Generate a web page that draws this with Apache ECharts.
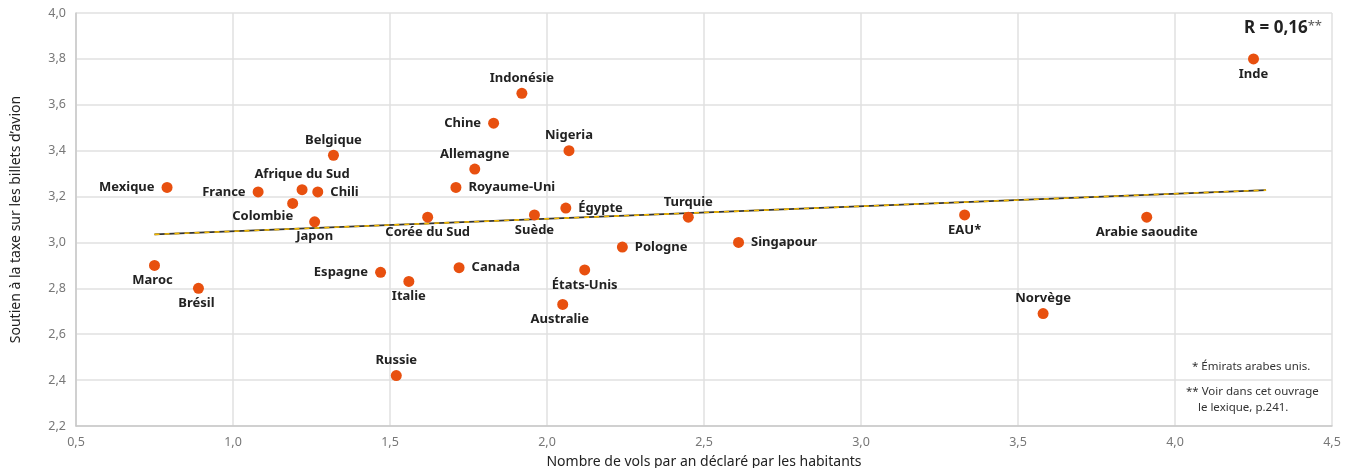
<!DOCTYPE html>
<html lang="fr">
<head>
<meta charset="UTF-8">
<title>Soutien à la taxe sur les billets d'avion</title>
<script src="https://cdn.jsdelivr.net/npm/echarts@6/dist/echarts.min.js"></script>
<style>
    body { margin: 0; padding: 0; background: #ffffff; }
    #chart { width: 1349px; height: 468px; }
</style>
</head>
<body>
<div id="chart"></div>
<script>
    // données
    const countries = ['Inde', 'Indonésie', 'Chine', 'Nigeria', 'Belgique', 'Allemagne', 'Mexique',
        'Royaume-Uni', 'Afrique du Sud', 'France', 'Chili', 'Colombie', 'Égypte', 'Suède',
        'Corée du Sud', 'Japon', 'Turquie', 'EAU*', 'Arabie saoudite', 'Singapour', 'Pologne',
        'Maroc', 'Canada', 'Espagne', 'États-Unis', 'Italie', 'Brésil', 'Australie', 'Norvège', 'Russie'];
    const flights = [4.25, 1.92, 1.83, 2.07, 1.32, 1.77, 0.79,
        1.71, 1.22, 1.08, 1.27, 1.19, 2.06, 1.96,
        1.62, 1.26, 2.45, 3.33, 3.91, 2.61, 2.24,
        0.75, 1.72, 1.47, 2.12, 1.56, 0.89, 2.05, 3.58, 1.52];
    const support = [3.80, 3.65, 3.52, 3.40, 3.38, 3.32, 3.24,
        3.24, 3.23, 3.22, 3.22, 3.17, 3.15, 3.12,
        3.11, 3.09, 3.11, 3.12, 3.11, 3.00, 2.98,
        2.90, 2.89, 2.87, 2.88, 2.83, 2.80, 2.73, 2.69, 2.42];
    const trendX = [0.75, 4.29];
    const trendY = [3.035, 3.228];

    // placement des étiquettes
    const labelPlace = {
        'Inde': 'bottom', 'Indonésie': 'top', 'Chine': 'left', 'Nigeria': 'top', 'Belgique': 'top',
        'Allemagne': 'top', 'Mexique': 'left', 'Royaume-Uni': 'right', 'Afrique du Sud': 'top',
        'France': 'left', 'Chili': 'right', 'Colombie': 'bottom', 'Égypte': 'right', 'Suède': 'bottom',
        'Corée du Sud': 'bottom', 'Japon': 'bottom', 'Turquie': 'top', 'EAU*': 'bottom',
        'Arabie saoudite': 'bottom', 'Singapour': 'right', 'Pologne': 'right', 'Maroc': 'bottom',
        'Canada': 'right', 'Espagne': 'left', 'États-Unis': 'bottom', 'Italie': 'bottom',
        'Brésil': 'bottom', 'Australie': 'bottom', 'Norvège': 'top', 'Russie': 'top'
    };
    const labelOffset = { 'Colombie': [-30, -2], 'Maroc': [-2, 0], 'Brésil': [-2, 0], 'Australie': [-3, 0] };

    const comma = v => v.toFixed(1).replace('.', ',');

    const points = countries.map((name, i) => ({
        name: name,
        value: [flights[i], support[i]],
        label: {
            position: labelPlace[name],
            offset: labelOffset[name] || [0, 0],
            distance: labelPlace[name] === 'left' || labelPlace[name] === 'right' ? 7 : 3
        }
    }));

    const trend = trendX.map((x, i) => [x, trendY[i]]);

    const chart = echarts.init(document.getElementById('chart'));
    chart.setOption({
        animation: false,
        textStyle: { fontFamily: 'Noto Sans' },
        grid: { left: 76, right: 17, top: 13, bottom: 42, containLabel: false, outerBoundsMode: 'none' },
        xAxis: {
            type: 'value',
            min: 0.5, max: 4.5, interval: 0.5,
            name: 'Nombre de vols par an déclaré par les habitants',
            nameLocation: 'middle',
            nameGap: 29,
            nameTextStyle: { fontSize: 14, color: '#222' },
            axisLine: { show: true, lineStyle: { color: '#c8c8c8', width: 1.5 } },
            axisTick: { show: false },
            axisLabel: { color: '#777', fontSize: 12.5, margin: 10, formatter: comma },
            splitLine: { show: true, lineStyle: { color: '#e0e0e0', width: 1.5 } }
        },
        yAxis: {
            type: 'value',
            min: 2.2, max: 4.0, interval: 0.2,
            name: 'Soutien à la taxe sur les billets d\u2019avion',
            nameLocation: 'middle',
            nameGap: 53,
            nameTextStyle: { fontSize: 14, color: '#222' },
            axisLine: { show: true, lineStyle: { color: '#c8c8c8', width: 1.5 } },
            axisTick: { show: false },
            axisLabel: { color: '#777', fontSize: 12.5, margin: 10, formatter: comma },
            splitLine: { show: true, lineStyle: { color: '#e0e0e0', width: 1.5 } }
        },
        series: [
            {
                type: 'line',
                data: trend,
                symbol: 'none',
                silent: true,
                lineStyle: { color: '#333', width: 1.6 },
                z: 1
            },
            {
                type: 'line',
                data: trend,
                symbol: 'none',
                silent: true,
                lineStyle: { color: '#f2b800', width: 1.6, type: [5, 5] },
                z: 2
            },
            {
                type: 'scatter',
                data: points,
                symbolSize: 11,
                itemStyle: { color: '#e8500f', opacity: 1 },
                label: {
                    show: true,
                    formatter: '{b}',
                    color: '#222',
                    fontWeight: 'bold',
                    fontSize: 13
                },
                z: 3
            }
        ],
        graphic: [
            {
                type: 'text',
                right: 27,
                top: 20,
                style: {
                    text: '{r|R = 0,16}{s|**}',
                    rich: {
                        r: { fontSize: 17, fontWeight: 'bold', fill: '#222', fontFamily: 'Noto Sans' },
                        s: { fontSize: 13, fill: '#555', fontFamily: 'Noto Sans', padding: [0, 0, 4, 0] }
                    }
                }
            },
            {
                type: 'text',
                left: 1192,
                top: 361,
                style: { text: '* Émirats arabes unis.', fontSize: 11.5, fill: '#333', fontFamily: 'Noto Sans' }
            },
            {
                type: 'text',
                left: 1186,
                top: 384,
                style: {
                    text: '** Voir dans cet ouvrage\n    le lexique, p.241.',
                    fontSize: 11.5, lineHeight: 16, fill: '#333', fontFamily: 'Noto Sans'
                }
            }
        ]
    });
</script>
</body>
</html>
